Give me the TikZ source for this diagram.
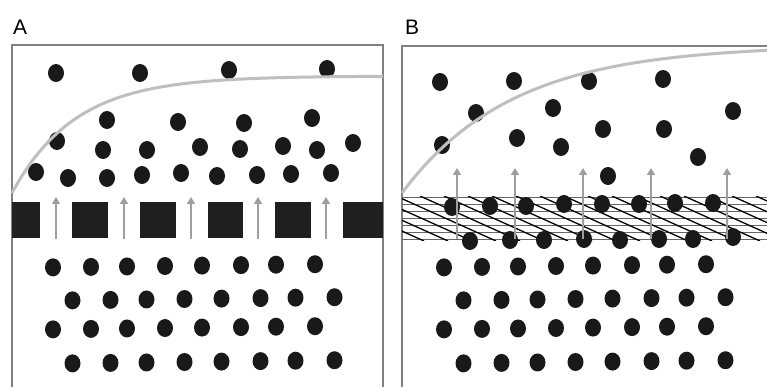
\documentclass[tikz,border=0pt]{standalone}
\usepackage{fontspec}
\setmainfont{Liberation Sans}
\usetikzlibrary{arrows.meta, shapes.geometric}

\tikzset{
  ion/.style={ellipse, fill=black!90, minimum width=16pt, minimum height=18pt, inner sep=0pt},
  flux/.style={draw=black!38, line width=1.6pt, -{Triangle[width=8pt,length=7pt]}},
  frame/.style={draw=black!50, line width=1.3pt},
  conc/.style={draw=black!25, line width=3pt},
  pore/.style={fill=black!88},
  sheet/.style={draw=black!60, line width=1.5pt},
  strand/.style={draw=black, line width=1.3pt},
  panel/.style={font=\fontsize{21}{21}\selectfont, anchor=base west, inner sep=0pt}
}

\begin{document}
\begin{tikzpicture}[x=1pt, y=-1pt]
\useasboundingbox (0,0) rectangle (767,387);

% panel A
\node[panel] (lA) at (13,35) {A};
\draw[frame] (12,387) -- (12,45) -- (383,45) -- (383,387);
\foreach \l/\r in {12/40, 72/108, 140/176, 208/243, 275/311, 343/383}
  \fill[pore] (\l,202) rectangle (\r,238);
\foreach \x/\y [count=\i] in {56/73, 140/73, 229/70, 327/69, 107/120, 178/122, 244/123, 312/118,
    57/141, 103/150, 147/150, 200/147, 240/149, 283/146, 317/150, 353/143,
    36/172, 68/178, 107/178, 142/175, 181/173, 217/176, 257/175, 291/174, 331/173}
  \node[ion] (a\i) at (\x,\y) {};

% panel B
\node[panel] (lB) at (405,35) {B};
\draw[frame] (402,387) -- (402,46) -- (767,46);
\begin{scope}
  \clip (402,196.5) rectangle (767,240.5);
  \foreach \y in {197.5,204.5,...,240}
    \draw[sheet] (402,\y) -- (767,\y);
  \foreach \x in {300,324,...,770}
    \draw[strand] (\x,196) -- ++(100,45);
\end{scope}
\foreach \x/\y [count=\i] in {440/82, 514/81, 589/81, 663/79, 476/113, 553/108, 733/111,
    442/145, 517/138, 561/147, 603/129, 664/129, 698/157, 608/176,
    452/207, 490/206, 526/206, 564/204, 602/204, 639/204, 675/203, 713/203,
    470/241, 510/240, 544/240, 584/239, 620/240, 659/239, 693/239, 733/237}
  \node[ion] (b\i) at (\x,\y) {};

% lower side, both panels
\foreach \s/\p in {0/a, 391/b}
  \foreach \y/\q [count=\r] in {268/0, 301/19.5, 330/0, 364/19.5}
    \foreach \x [count=\c] in {53,91,127,165,202,241,276,315}
      \node[ion] (\p\r-\c) at ({\x+\q+\s},{\y-0.012*\x}) {};

\foreach \x in {56,124,191,258,326}
  \draw[flux] (\x,239) -- (\x,197);
\foreach \x in {457,515,583,651,727}
  \draw[flux] (\x,239) -- (\x,168);

\draw[conc] plot[domain=0:371, samples=80] ({12+\x},{193-117*(1-exp(-\x/63))});
\draw[conc] plot[domain=0:365, samples=80] ({402+\x},{193-148*(1-exp(-\x/110))});
\end{tikzpicture}
\end{document}
